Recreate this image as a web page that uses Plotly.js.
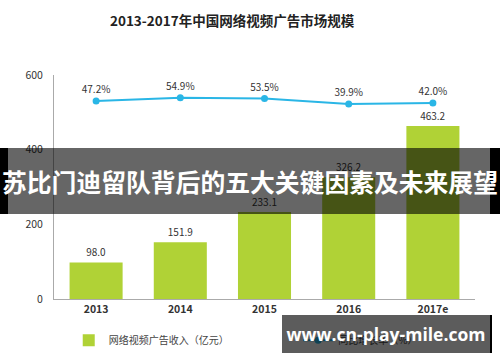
<!DOCTYPE html>
<html>
<head>
<meta charset="utf-8">
<script src="https://cdn.plot.ly/plotly-3.0.1.min.js"></script>
<style>
  html, body { margin:0; padding:0; background:#fff; }
  #wrap { position:relative; width:500px; height:362px; overflow:hidden; }
  #chart { position:absolute; left:0; top:0; width:500px; height:362px; }
  .banner { position:absolute; left:0; top:148px; width:500px; height:66px; }
  .banner .edgeL { position:absolute; left:0; top:0; width:8px; height:66px; background:#000; }
  .banner .edgeR { position:absolute; right:0; top:0; width:10px; height:66px; background:#000; }
  .banner .mid { position:absolute; left:8px; top:0; width:482px; height:66px; background:rgba(0,0,0,0.6); }
  .banner .txt { position:absolute; left:0; top:0; width:500px; height:66px; line-height:66px; text-align:center;
    color:#fff; font-family:"Noto Sans CJK SC", sans-serif; font-weight:bold; font-size:24.8px; white-space:nowrap; }
  .wm { position:absolute; left:282px; top:315px; width:208px; height:38px; background:rgba(0,0,0,0.64);
    border-right:2px solid #000; }
  .wm .txt { position:absolute; left:0; top:0; width:208px; height:38px; line-height:38px; text-align:center;
    color:#fff; font-family:"Open Sans", "DejaVu Sans", sans-serif; font-weight:bold; font-size:17.5px; white-space:nowrap; }
</style>
</head>
<body>
<div id="wrap">
  <div id="chart"></div>
  <div class="banner">
    <div class="edgeL"></div><div class="mid"></div><div class="edgeR"></div>
    <div class="txt">苏比门迪留队背后的五大关键因素及未来展望</div>
  </div>
  <div class="wm"><div class="txt">www.cn-play-mile.com</div></div>
</div>
<script>
const years = ["2013", "2014", "2015", "2016", "2017e"];
const revenue = [98.0, 151.9, 233.1, 326.2, 463.2];
const growth = [47.2, 54.9, 53.5, 39.9, 42.0];
const revenueName = "网络视频广告收入（亿元）";
const growthName = "同比增长率（%）";
const titleText = "2013-2017年中国网络视频广告市场规模";
const yTicks = [0, 200, 400, 600];

const FONT = '"Noto Sans CJK SC", "Open Sans", sans-serif';

const barTrace = {
  type: "bar",
  name: revenueName,
  legend: "legend",
  x: years,
  y: revenue,
  marker: { color: "#b0d236" },
  text: revenue.map(v => v.toFixed(1)),
  textposition: "outside",
  textfont: { size: 10, color: "#333", family: FONT },
  cliponaxis: false,
  hoverinfo: "x+y"
};

const lineTrace = {
  type: "scatter",
  mode: "lines+markers+text",
  name: growthName,
  legend: "legend2",
  x: years,
  y: growth,
  yaxis: "y2",
  line: { color: "#2ab6e6", width: 2 },
  marker: { color: "#2ab6e6", size: 7 },
  text: growth.map(v => v.toFixed(1) + "%"),
  textposition: "top center",
  textfont: { size: 10, color: "#333", family: FONT },
  cliponaxis: false
};

const legendFont = { size: 10, color: "#444", family: FONT };

const layout = {
  width: 500,
  height: 362,
  margin: { l: 54, r: 25, t: 75, b: 63, autoexpand: false },
  paper_bgcolor: "#fff",
  plot_bgcolor: "#fff",
  font: { family: FONT, color: "#333" },
  title: {
    text: "<b>" + titleText + "</b>",
    font: { size: 13.5, color: "#222", family: FONT },
    x: 0.423, xref: "paper", xanchor: "center",
    y: 0.94, yref: "container", yanchor: "middle"
  },
  bargap: 0.37,
  showlegend: true,
  legend: {
    orientation: "h",
    x: 0.035, xanchor: "left", xref: "paper",
    y: 0.06, yanchor: "middle", yref: "container",
    font: legendFont,
    itemwidth: 30,
    bgcolor: "rgba(0,0,0,0)"
  },
  legend2: {
    orientation: "h",
    x: 0.58, xanchor: "left", xref: "paper",
    y: 0.06, yanchor: "middle", yref: "container",
    font: legendFont,
    itemwidth: 30,
    bgcolor: "rgba(0,0,0,0)"
  },
  xaxis: {
    type: "category",
    range: [-0.5, 4.5],
    showline: true,
    linecolor: "#aaa",
    linewidth: 1,
    ticks: "",
    tickfont: { size: 10.5, color: "#333", family: FONT, weight: "bold" },
    showgrid: false,
    zeroline: false
  },
  yaxis: {
    range: [0, 600],
    tickvals: yTicks,
    showline: true,
    linecolor: "#aaa",
    linewidth: 1,
    ticks: "",
    ticklabelstandoff: 8,
    tickfont: { size: 10.5, color: "#333", family: FONT },
    showgrid: false,
    zeroline: false
  },
  yaxis2: {
    overlaying: "y",
    side: "right",
    range: [-436, 110.6],
    visible: false,
    showgrid: false,
    zeroline: false
  }
};

Plotly.newPlot("chart", [barTrace, lineTrace], layout, { staticPlot: true, displayModeBar: false });
</script>
</body>
</html>
